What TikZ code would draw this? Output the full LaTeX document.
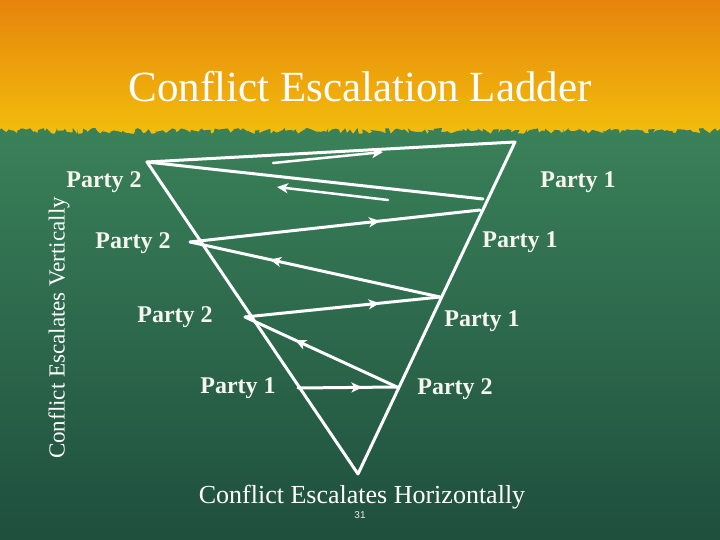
\documentclass[tikz,border=0pt]{standalone}
\usepackage{fontspec}
\setmainfont{Liberation Serif}
\newfontfamily\numfont{Liberation Sans}
\usetikzlibrary{arrows.meta,decorations.markings,decorations.pathmorphing}

\definecolor{orangetop}{HTML}{E6820C}
\definecolor{yellowbot}{HTML}{F3C00C}
\definecolor{greentop}{HTML}{3A8159}
\definecolor{greenbot}{HTML}{1D4C3C}
\definecolor{labelwhite}{HTML}{F6F6EE}

\begin{document}
\begin{tikzpicture}[x=1bp,y=-1bp,
  edge/.style={color=white, line width=3bp, line cap=round, line join=round},
  midarrow/.style={postaction={decorate},
    decoration={markings, mark=at position #1 with {\arrow{Stealth[length=11bp,width=10bp,inset=3bp]}}}},
  tipend/.style={-{Stealth[length=11bp,width=10bp,inset=3bp]}},
  party/.style={font=\fontsize{24bp}{28bp}\selectfont\bfseries, text=labelwhite, inner sep=0pt},
  caption/.style={font=\fontsize{26bp}{30bp}\selectfont, text=white, inner sep=0pt}
]
\useasboundingbox (0,0) rectangle (720,540);

% background
\shade[top color=orangetop, bottom color=yellowbot] (-5,-5) rectangle (725,140);
\pgfmathsetseed{7}
\shade[top color=greentop, bottom color=greenbot, decorate,
  decoration={random steps, segment length=2.5bp, amplitude=3bp}]
  (-10,131) -- (730,131) -- (730,560) -- (-10,560) -- cycle;

% title
\node[font=\fontsize{43bp}{50bp}\selectfont, text=white, inner sep=0pt] (title) at (360,87) {Conflict Escalation Ladder};

% triangle vertices and turning points
\coordinate (T1) at (147,162);
\coordinate (T2) at (515,142);
\coordinate (T3) at (358,474);
\coordinate (A) at (483,199);
\coordinate (B) at (480,210);
\coordinate (C) at (190,242);
\coordinate (D) at (440,297);
\coordinate (E) at (245,317);
\coordinate (F) at (397,387);
\coordinate (G) at (298,388);
\coordinate (S1s) at (273,163);
\coordinate (S1e) at (383,152);
\coordinate (S2s) at (388,200);
\coordinate (S2e) at (277,187);

\draw[edge] (T1) -- (T2) -- (T3) -- cycle;
\draw[edge] (T1) -- (A);
\draw[edge, midarrow=0.655] (C) -- (B);
\draw[edge, midarrow=0.68] (D) -- (C);
\draw[edge, midarrow=0.69] (E) -- (D);
\draw[edge, midarrow=0.67] (F) -- (E);
\draw[edge, midarrow=0.65] (G) -- (F);
\draw[edge, line width=2.5bp, tipend] (S1s) -- (S1e);
\draw[edge, line width=2.5bp, tipend] (S2s) -- (S2e);

% labels
\node[party] (p2a) at (104,182) {Party 2};
\node[party] (p1a) at (578,182) {Party 1};
\node[party] (p2b) at (133,243) {Party 2};
\node[party] (p1b) at (520,242) {Party 1};
\node[party] (p2c) at (175,317) {Party 2};
\node[party] (p1c) at (482,321) {Party 1};
\node[party] (p1d) at (238,388) {Party 1};
\node[party] (p2d) at (455,389) {Party 2};

\node[caption] (horiz) at (362,497) {Conflict Escalates Horizontally};
\node[font=\fontsize{23bp}{27bp}\selectfont, text=white, inner sep=0pt, rotate=90] (vert) at (59,328) {Conflict Escalates Vertically};
\node[font=\numfont\fontsize{10bp}{12bp}\selectfont, text=white!85!gray, inner sep=0pt] (num) at (360,515) {31};
\end{tikzpicture}
\end{document}
